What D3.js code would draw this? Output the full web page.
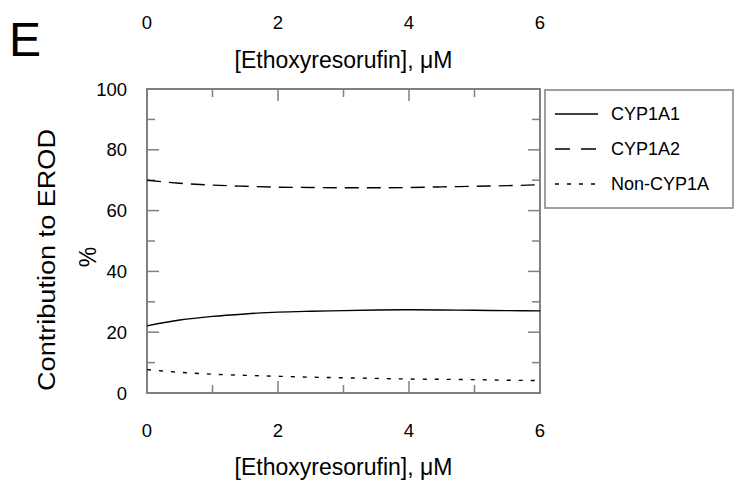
<!DOCTYPE html>
<html lang="en">
<head>
    <meta charset="UTF-8">
    <title>Contribution to EROD</title>
    <style>
        body { margin: 0; background: #fff; font-family: Arial, "Liberation Sans", sans-serif; }
        svg { display: block; }
    </style>
</head>
<body>
    <div id="chart"></div>
    <script src="https://cdnjs.cloudflare.com/ajax/libs/d3/7.8.5/d3.min.js"></script>
    <script>
        // data
        const conc = [0, 0.5, 1, 1.5, 2, 2.5, 3, 3.5, 4, 4.5, 5, 5.5, 6];
        const cyp1a1 = [22.1, 24.0, 25.2, 26.0, 26.6, 26.9, 27.1, 27.3, 27.4, 27.3, 27.2, 27.1, 27.0];
        const cyp1a2 = [70.0, 69.0, 68.4, 68.0, 67.7, 67.6, 67.5, 67.5, 67.6, 67.8, 68.0, 68.2, 68.5];
        const nonCyp = [7.7, 6.8, 6.2, 5.8, 5.5, 5.2, 5.0, 4.8, 4.6, 4.5, 4.4, 4.2, 4.1];
        const seriesNames = ["CYP1A1", "CYP1A2", "Non-CYP1A"];
        const xTicks = [0, 2, 4, 6];
        const yTicks = [0, 20, 40, 60, 80, 100];

        const W = 735, H = 482;
        const pL = 147, pR = 540, pT = 89, pB = 393;
        const axisColor = "#808080";

        const svg = d3.select("#chart").append("svg")
            .attr("width", W).attr("height", H);

        const x = d3.scaleLinear().domain([0, 6]).range([pL, pR]);
        const y = d3.scaleLinear().domain([0, 100]).range([pB, pT]);

        // minor + major ticks on all four sides, pointing inward
        const g = svg.append("g").attr("stroke", axisColor).attr("stroke-width", 1.5);
        d3.range(0, 6.01, 1).forEach(v => {
            const len = v % 2 === 0 ? 12 : 8;
            g.append("line").attr("x1", x(v)).attr("x2", x(v)).attr("y1", pB).attr("y2", pB - len);
            g.append("line").attr("x1", x(v)).attr("x2", x(v)).attr("y1", pT).attr("y2", pT + len);
        });
        d3.range(0, 101, 10).forEach(v => {
            const len = v % 20 === 0 ? 12 : 8;
            g.append("line").attr("x1", pL).attr("x2", pL + len).attr("y1", y(v)).attr("y2", y(v));
            g.append("line").attr("x1", pR).attr("x2", pR - len).attr("y1", y(v)).attr("y2", y(v));
        });
        g.append("rect").attr("x", pL).attr("y", pT)
            .attr("width", pR - pL).attr("height", pB - pT)
            .attr("fill", "none").attr("stroke-width", 2);

        // tick labels
        const txt = svg.append("g").attr("fill", "#000");
        xTicks.forEach(v => {
            txt.append("text").attr("x", x(v)).attr("y", 437)
                .attr("text-anchor", "middle").attr("font-size", 18.5).text(v);
            txt.append("text").attr("x", x(v)).attr("y", 29)
                .attr("text-anchor", "middle").attr("font-size", 18.5).text(v);
        });
        yTicks.forEach(v => {
            txt.append("text").attr("x", 127).attr("y", y(v) + 6.5)
                .attr("text-anchor", "end").attr("font-size", 18.5).text(v);
        });

        // axis titles
        txt.append("text").attr("x", (pL + pR) / 2).attr("y", 475)
            .attr("text-anchor", "middle").attr("font-size", 23).text("[Ethoxyresorufin], \u03BCM");
        txt.append("text").attr("x", (pL + pR) / 2).attr("y", 68)
            .attr("text-anchor", "middle").attr("font-size", 23).text("[Ethoxyresorufin], \u03BCM");
        txt.append("text").attr("transform", "translate(55,260) rotate(-90)")
            .attr("text-anchor", "middle").attr("font-size", 23)
            .attr("textLength", 262).attr("lengthAdjust", "spacingAndGlyphs")
            .text("Contribution to EROD");
        txt.append("text").attr("transform", "translate(96,257) rotate(-90)")
            .attr("text-anchor", "middle").attr("font-size", 23).text("%");

        // panel letter
        txt.append("text").attr("x", 9).attr("y", 56).attr("font-size", 48).text("E");

        // curves
        const styles = ["none", "14,8", "4,8"];
        const data = [cyp1a1, cyp1a2, nonCyp];
        const line = d3.line()
            .x((d, i) => x(conc[i]))
            .y(d => y(d))
            .curve(d3.curveMonotoneX);
        data.forEach((s, k) => {
            svg.append("path").datum(s)
                .attr("d", line)
                .attr("fill", "none").attr("stroke", "#000").attr("stroke-width", 1.4)
                .attr("stroke-dasharray", styles[k]);
        });

        // legend
        const lg = svg.append("g");
        lg.append("rect").attr("x", 545).attr("y", 90).attr("width", 188).attr("height", 118)
            .attr("fill", "#fff").attr("stroke", axisColor).attr("stroke-width", 1.5);
        seriesNames.forEach((name, k) => {
            const yy = 114 + k * 35;
            lg.append("line").attr("x1", 555).attr("x2", 598).attr("y1", yy).attr("y2", yy)
                .attr("stroke", "#000").attr("stroke-width", 1.4)
                .attr("stroke-dasharray", k === 1 ? "15,11" : styles[k]);
            lg.append("text").attr("x", 611).attr("y", yy + 6)
                .attr("font-size", 18).text(name);
        });
    </script>
</body>
</html>
